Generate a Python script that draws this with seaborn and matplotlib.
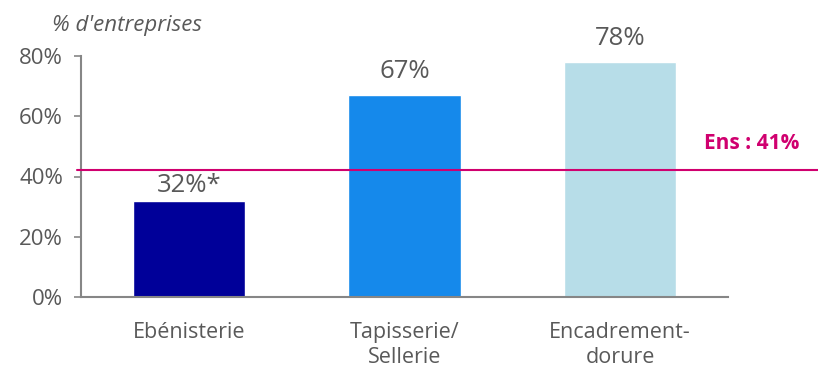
import matplotlib
matplotlib.use("Agg")
import matplotlib.pyplot as plt
import seaborn as sns
import pandas as pd

categories = ["Ebénisterie", "Tapisserie/\nSellerie", "Encadrement-\ndorure"]
values = [32, 67, 78]
value_labels = ["32%*", "67%", "78%"]
colors = ["#000099", "#1589EB", "#B7DDE8"]
ens_value = 42
ens_label = "Ens : 41%"
y_ticks = [0, 20, 40, 60, 80]
y_tick_labels = ["0%", "20%", "40%", "60%", "80%"]

sns.set_style("white")
plt.rcParams["font.family"] = ["Open Sans", "DejaVu Sans"]
grey = "#595959"
axis_grey = "#868686"

df = pd.DataFrame({"cat": categories, "val": values})

fig = plt.figure(figsize=(8.18, 3.75), dpi=100)
ax = fig.add_axes([81/818, 78/375, 647/818, 241/375])
sns.barplot(data=df, x="cat", y="val", hue="cat", palette=colors,
            width=0.52, legend=False, ax=ax, saturation=1)

ax.set_ylim(0, 80)
ax.set_xlim(-0.5, 2.5)
ax.set_yticks(y_ticks)
ax.set_yticklabels(y_tick_labels, fontsize=16, color=grey)
ax.set_xticks(range(len(categories)))
ax.set_xticklabels(categories, fontsize=15.5, color=grey, linespacing=1.25)
ax.set_xticks([-0.5, 0.5, 1.5, 2.5], minor=True)
ax.tick_params(axis="x", which="major", length=0, pad=18)
ax.tick_params(axis="x", which="minor", length=6, width=1.2, color=axis_grey, direction="out")
ax.tick_params(axis="y", length=5, width=1.2, color=axis_grey, direction="out", pad=8, left=True)
ax.set_xlabel("")
ax.set_ylabel("")
for s in ["top", "right"]:
    ax.spines[s].set_visible(False)
for s in ["left", "bottom"]:
    ax.spines[s].set_color(axis_grey)
    ax.spines[s].set_linewidth(1.5)

label_offsets = [2, 8, 8]
for i, (v, lab) in enumerate(zip(values, value_labels)):
    ax.annotate(lab, (i, v), xytext=(0, label_offsets[i]), textcoords="offset points",
                ha="center", va="bottom", fontsize=18.5, color=grey, zorder=6)

ax.axhline(ens_value, xmin=-0.006, xmax=1.14, color="#D0006F", lw=1.5, clip_on=False, zorder=5)
ax.text(2.61, 50.8, ens_label, ha="center", va="center", fontsize=15,
        fontweight="bold", color="#D0006F")

fig.text(52/818, 1 - 25/375, "% d'entreprises", ha="left", va="center",
         fontsize=16, style="italic", color=grey)

fig.savefig("out.png", dpi=100)
